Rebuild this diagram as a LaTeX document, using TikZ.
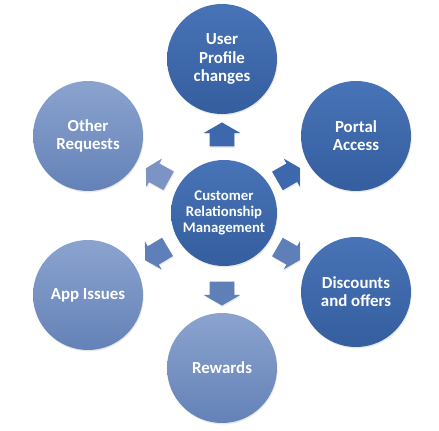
\documentclass[tikz,border=0pt]{standalone}
\usepackage{fontspec}
\setmainfont{Carlito}
\usetikzlibrary{shapes.arrows,shadows}

\definecolor{darktop}{HTML}{4873B6}
\definecolor{darkbot}{HTML}{345E9E}
\definecolor{lighttop}{HTML}{8BA3CE}
\definecolor{lightbot}{HTML}{6482B8}
\definecolor{arrdark}{HTML}{3D68AE}
\definecolor{arrmid}{HTML}{5E7FB8}
\definecolor{arrlight}{HTML}{7C94C4}

\tikzset{
	bubble/.style={circle,minimum size=2.75cm,inner sep=0pt,text=white,align=center,
		font=\fontsize{12}{13}\selectfont\bfseries,
		drop shadow={opacity=0.18,shadow xshift=0.5pt,shadow yshift=-1pt}},
	dark/.style={bubble,top color=darktop,bottom color=darkbot},
	light/.style={bubble,top color=lighttop,bottom color=lightbot},
	blockarrow/.style={single arrow,inner xsep=0pt,inner ysep=0.3cm,minimum height=0.6cm,
		single arrow head extend=0.15cm,single arrow tip angle=120,
		drop shadow={opacity=0.15,shadow xshift=0.5pt,shadow yshift=-1pt}},
	diagarrow/.style={blockarrow,inner ysep=0.26cm,minimum height=0.65cm,single arrow head extend=0.14cm}
}

\begin{document}
\begin{tikzpicture}
	\useasboundingbox (0,0) rectangle (10.975,10.775);
	\node[dark,minimum size=2.65cm,font=\fontsize{10.5}{11.5}\selectfont\bfseries] (crm) at (5.6,5.45) {Customer\\Relationship\\Management};
	\node[dark] (profile) at (5.55,9.3) {User\\Profile\\changes};
	\node[light] (other) at (2.2,7.375) {Other\\Requests};
	\node[dark] (portal) at (8.9,7.375) {Portal\\Access};
	\node[light] (app) at (2.2,3.4) {App Issues};
	\node[dark] (discounts) at (8.9,3.475) {Discounts\\and offers};
	\node[light] (rewards) at (5.55,1.575) {Rewards};
	\node[blockarrow,fill=arrdark,rotate=90] (aup) at (5.55,7.325) {};
	\node[diagarrow,fill=arrlight,rotate=151] (aul) at (4.0,6.375) {};
	\node[diagarrow,fill=arrdark,rotate=30] (aur) at (7.15,6.375) {};
	\node[diagarrow,fill=arrmid,rotate=211] (all) at (3.975,4.475) {};
	\node[diagarrow,fill=arrmid,rotate=-30] (alr) at (7.15,4.475) {};
	\node[blockarrow,fill=arrmid,rotate=-90] (adn) at (5.55,3.525) {};
\end{tikzpicture}
\end{document}
